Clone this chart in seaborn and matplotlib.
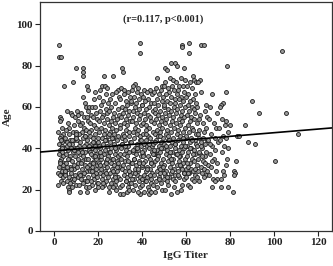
import pandas as pd
import matplotlib
matplotlib.use("Agg")
import matplotlib.pyplot as plt
import seaborn as sns

# points, grouped by IgG titer band (titer, age)
band_00 = [(2.3,90),(2.4,84),(3.3,84),(4.4,70),(2.5,55),(3.0,54),(2.8,53),(3.5,50),(2.0,48),(4.0,47),(3.2,46),(2.6,45),(4.5,44),(3.8,43),(2.2,42),(3.6,41),(4.8,40),(2.9,39),(3.4,38),(2.1,37),(4.2,36),(3.1,35),(2.7,34),(4.6,33),(3.9,32),(2.4,31),(4.1,30),(3.7,29),(2.0,28),(4.9,28),(3.3,27),(2.5,27),(4.3,26),(3.0,24),(1.8,22)]
band_05 = [(8.5,72),(6.0,58),(7.5,57),(8.0,56),(9.6,55),(6.4,52),(9.2,51),(7.0,50),(5.5,49),(8.8,48),(6.7,47),(9.9,46),(5.2,45),(7.3,44),(9.0,44),(6.1,43),(8.2,42),(5.8,41),(7.7,40),(9.4,40),(6.3,39),(8.6,38),(5.4,37),(7.1,36),(9.7,36),(6.9,35),(8.0,34),(5.6,33),(9.1,32),(7.4,31),(6.2,30),(8.9,30),(5.1,29),(7.8,28),(9.5,27),(6.6,26),(8.3,25),(8.5,24),(5.9,24),(7.2,23),(9.8,22),(6.5,21),(8.1,21),(7.0,20),(6.8,19)]
band_10 = [(10.0,79),(13.0,79),(13.1,77),(13.0,75),(15.0,70),(15.3,68),(13.2,65),(14.1,62),(14.6,60),(10.5,58),(12.2,57),(11.0,56),(13.8,55),(14.9,55),(10.8,53),(12.5,52),(11.7,51),(13.4,50),(14.4,49),(10.2,48),(12.8,48),(11.4,47),(14.0,46),(13.1,45),(10.6,44),(12.0,43),(14.7,42),(11.2,41),(13.6,41),(10.4,40),(12.4,39),(14.2,38),(11.8,37),(13.0,36),(10.9,35),(14.5,35),(12.6,34),(11.1,33),(13.9,32),(10.3,31),(12.9,30),(14.8,29),(11.5,28),(13.3,27),(10.7,26),(12.1,25),(14.3,24),(13.0,23),(12.0,19),(15.0,19),(11.3,22),(14.6,21)]
band_15 = [(18.5,67),(18.0,64),(16.0,60),(17.2,60),(18.4,60),(15.6,58),(19.0,57),(16.8,56),(17.9,55),(19.6,54),(15.4,53),(16.5,52),(18.2,51),(19.3,50),(17.0,49),(15.8,48),(18.8,47),(16.3,46),(19.8,45),(17.5,45),(15.2,44),(18.1,43),(16.7,42),(19.4,41),(17.3,40),(15.9,39),(18.6,39),(16.2,38),(19.1,37),(17.7,36),(15.5,35),(18.3,34),(16.9,33),(19.7,32),(17.1,31),(15.7,30),(18.9,30),(16.4,29),(19.2,28),(17.6,27),(15.3,26),(18.0,25),(16.6,24),(19.5,23),(17.4,22),(16.1,21),(18.7,20),(19.9,21),(17.8,33),(16.0,41)]
band_20 = [(22.7,75),(22.0,70),(23.2,70),(24.0,69),(21.0,68),(23.8,66),(20.5,65),(22.4,63),(24.6,62),(21.3,61),(23.5,59),(20.8,58),(24.2,57),(22.1,56),(21.6,55),(23.9,54),(20.3,53),(22.8,52),(24.8,51),(21.4,50),(23.1,49),(20.6,48),(22.5,47),(24.4,46),(21.8,45),(23.6,44),(20.2,43),(22.3,42),(24.1,41),(21.1,40),(23.3,39),(20.9,38),(22.6,37),(24.7,36),(21.5,35),(23.7,34),(20.4,33),(22.9,32),(24.3,31),(21.2,30),(23.0,29),(20.7,28),(22.2,27),(24.5,26),(21.7,25),(23.4,24),(20.1,23),(22.8,22),(24.9,21),(21.9,21),(23.6,33),(20.5,36)]
band_25 = [(27.0,75),(29.0,68),(28.2,67),(26.4,66),(29.6,65),(25.5,64),(27.8,62),(26.1,60),(28.9,59),(25.2,58),(27.3,57),(29.4,56),(26.7,55),(28.5,54),(25.8,53),(27.6,52),(29.8,51),(26.3,50),(28.1,49),(25.4,48),(27.1,47),(29.2,46),(26.9,45),(28.7,44),(25.6,43),(27.4,42),(29.5,41),(26.0,40),(28.3,39),(25.1,38),(27.9,37),(29.1,36),(26.5,35),(28.6,34),(25.7,33),(27.2,32),(29.7,31),(26.2,30),(28.4,29),(25.3,28),(27.7,27),(29.3,26),(26.8,25),(28.0,24),(25.9,23),(27.5,22),(29.9,21),(26.6,21),(25.0,19),(28.0,20),(30.0,18),(27.0,35)]
band_30 = [(31.0,79),(31.4,77),(30.5,69),(32.0,68),(33.8,67),(31.6,66),(34.4,65),(30.2,64),(32.7,63),(34.9,62),(33.1,61),(30.8,60),(32.3,59),(34.1,58),(31.2,57),(33.5,56),(30.4,55),(32.9,54),(34.6,53),(31.8,52),(33.3,51),(30.1,50),(32.5,49),(34.3,48),(31.5,47),(33.9,46),(30.7,45),(32.2,44),(34.7,43),(31.1,42),(33.6,41),(30.3,40),(32.8,39),(34.2,38),(31.9,37),(33.0,36),(30.6,35),(32.4,34),(34.8,33),(31.3,32),(33.7,31),(30.9,30),(32.1,29),(34.5,28),(31.7,27),(33.2,26),(30.0,25),(32.6,24),(34.0,23),(31.0,22),(33.4,21),(33.0,19),(34.0,20),(31.5,18)]
band_35 = [(39.0,91),(39.2,86),(37.0,71),(36.0,70),(38.0,69),(35.5,68),(37.6,67),(39.5,66),(36.3,65),(38.8,64),(35.2,63),(37.3,62),(39.8,61),(36.7,60),(38.4,59),(35.8,58),(37.9,57),(39.1,56),(36.1,55),(38.6,54),(35.4,53),(37.1,52),(39.6,51),(36.9,50),(38.2,49),(35.7,48),(37.5,47),(39.3,46),(36.4,45),(38.9,44),(35.1,43),(37.8,42),(39.7,41),(36.6,40),(38.1,39),(35.9,38),(37.2,37),(39.4,36),(36.2,35),(38.7,34),(35.3,33),(37.4,32),(39.9,31),(36.8,30),(38.3,29),(35.6,28),(37.7,27),(39.0,26),(36.5,25),(38.5,24),(35.0,23),(37.0,22),(39.2,21),(36.0,20),(39.0,18),(38.0,19)]
band_40 = [(41.0,68),(43.5,68),(42.2,67),(44.6,66),(40.5,65),(42.8,64),(41.4,63),(44.1,62),(40.2,61),(43.0,60),(41.7,59),(44.8,58),(40.9,57),(42.5,56),(43.8,55),(41.2,54),(44.3,53),(40.6,52),(42.0,51),(43.3,50),(41.6,49),(44.9,48),(40.3,47),(42.7,46),(43.6,45),(41.9,44),(44.4,43),(40.8,42),(42.3,41),(43.1,40),(41.1,39),(44.7,38),(40.4,37),(42.9,36),(43.7,35),(41.5,34),(44.0,33),(40.1,32),(42.4,31),(43.4,30),(41.8,29),(44.5,28),(40.7,27),(42.1,26),(43.9,25),(41.3,24),(44.2,23),(40.0,22),(42.6,21),(43.2,20),(41.0,19),(43.0,18),(44.0,19),(42.0,24),(40.5,33),(44.5,41)]
band_45 = [(47.0,74),(49.0,70),(50.0,70),(46.2,69),(48.4,68),(45.6,67),(47.8,66),(49.5,65),(46.7,64),(48.9,63),(45.3,62),(47.4,61),(49.8,60),(46.1,59),(48.2,58),(45.9,57),(47.1,56),(49.3,55),(46.5,54),(48.6,53),(45.4,52),(47.6,51),(49.1,50),(46.8,49),(48.0,48),(45.7,47),(47.3,46),(49.6,45),(46.3,44),(48.7,43),(45.1,42),(47.9,41),(49.4,40),(46.6,39),(48.3,38),(45.8,37),(47.2,36),(49.7,35),(46.0,34),(48.5,33),(45.2,32),(47.5,31),(49.2,30),(46.9,29),(48.1,28),(45.5,27),(47.7,26),(49.9,25),(46.4,24),(48.8,23),(45.0,22),(47.0,21),(49.0,20),(46.0,19),(48.0,30),(45.5,37)]
band_50 = [(53.0,81),(55.0,81),(50.5,79),(51.5,78),(52.5,74),(54.2,73),(50.3,72),(53.6,70),(51.8,69),(54.7,68),(52.1,67),(50.8,66),(53.3,65),(54.9,64),(51.2,63),(52.8,62),(50.1,61),(54.4,60),(51.6,59),(53.0,58),(50.6,57),(52.3,56),(54.0,55),(51.0,54),(53.8,53),(50.4,52),(52.6,51),(54.6,50),(51.4,49),(53.2,48),(50.9,47),(52.0,46),(54.3,45),(51.7,44),(53.5,43),(50.2,42),(52.9,41),(54.8,40),(51.3,39),(53.7,38),(50.7,37),(52.4,36),(54.1,35),(51.9,34),(53.4,33),(50.0,32),(52.7,31),(54.5,30),(51.1,29),(53.1,28),(50.5,27),(52.2,26),(54.0,25),(51.5,24),(53.0,18),(52.0,22),(54.5,21),(50.5,20)]
band_55 = [(58.0,90),(58.2,89),(56.0,80),(59.0,79),(57.5,74),(59.5,73),(55.5,72),(57.0,70),(58.8,70),(56.3,68),(59.3,67),(55.8,66),(57.8,65),(56.6,64),(58.5,63),(55.2,62),(57.3,61),(59.7,60),(56.1,59),(58.3,58),(55.6,57),(57.6,56),(59.1,55),(56.8,54),(58.0,53),(55.3,52),(57.1,51),(59.4,50),(56.4,49),(58.7,48),(55.9,47),(57.4,46),(59.8,45),(56.2,44),(58.4,43),(55.1,42),(57.9,41),(59.2,40),(56.7,39),(58.1,38),(55.4,37),(57.2,36),(59.6,35),(56.9,34),(58.6,33),(55.7,32),(57.7,31),(59.9,30),(56.5,29),(58.9,28),(55.0,27),(57.0,26),(59.0,25),(56.0,19),(58.0,22),(57.5,20)]
band_60 = [(61.5,91),(61.3,86),(63.0,75),(63.5,73),(62.0,72),(64.5,72),(60.5,70),(62.8,69),(61.0,66),(64.0,66),(60.2,65),(63.3,64),(61.8,63),(64.7,62),(60.7,61),(62.5,60),(63.8,59),(61.2,58),(64.2,57),(60.4,56),(62.2,55),(63.6,54),(61.6,53),(64.9,52),(60.9,51),(62.7,50),(63.1,49),(61.4,48),(64.4,47),(60.1,46),(62.4,45),(63.9,44),(61.9,43),(64.6,42),(60.6,41),(62.1,40),(63.4,39),(61.1,38),(64.1,37),(60.3,36),(62.9,35),(63.7,34),(61.7,33),(64.8,32),(60.8,31),(62.3,30),(63.2,29),(61.5,28),(64.3,27),(60.0,26),(62.6,25),(61.0,22),(62.0,21),(63.5,24)]
band_65 = [(67.0,90),(68.0,90),(66.5,73),(65.5,72),(67.0,67),(69.0,61),(65.2,60),(68.4,58),(66.3,56),(69.5,55),(65.8,54),(67.6,52),(69.1,50),(66.0,49),(68.2,48),(65.4,47),(67.9,45),(69.7,44),(66.7,43),(68.8,42),(65.1,41),(67.3,40),(69.3,38),(66.2,37),(68.5,36),(65.6,35),(67.7,34),(69.8,32),(66.9,31),(68.1,30),(65.3,29),(67.4,28),(69.0,27),(66.0,24),(68.0,26)]
band_70 = [(72.0,66),(71.0,60),(74.0,57),(70.5,54),(72.5,52),(73.8,50),(71.3,47),(73.0,45),(70.2,44),(74.5,43),(71.8,41),(73.3,39),(70.8,37),(72.8,35),(74.2,33),(71.5,31),(73.6,29),(70.4,27),(72.2,25),(74.0,25),(73.0,24),(72.0,21)]
band_75 = [(78.5,80),(78.0,67),(77.0,62),(76.0,61),(75.5,60),(76.5,54),(78.0,53),(77.5,51),(75.2,50),(79.0,48),(76.8,46),(78.3,45),(75.6,44),(77.2,41),(79.3,40),(76.2,38),(78.6,35),(78.0,32),(77.0,29),(77.2,27),(76.0,25),(76.0,21)]
band_80 = [(80.0,51),(83.0,46),(84.0,46),(82.6,34),(82.0,29),(82.2,28),(82.0,27),(79.0,21),(81.4,19),(87.0,51),(88.0,43),(90.0,63),(91.4,42),(93.0,57),(100.5,34),(103.6,87),(105.5,57),(111.0,47)]
# extra points where the cloud is densest (ages 22-48)
core_a = [(3.1,44),(5.7,31),(8.9,39),(11.6,27),(14.2,46),(17.3,29),(19.1,35),(2.6,33),(6.8,42),(9.3,25),(12.7,38),(15.9,32),(18.4,41),(4.2,23),(7.6,30),(10.1,45),(13.5,28),(16.6,37),(19.7,26),(3.8,40),(6.2,35),(9.8,47),(12.3,33),(15.1,24),(17.9,43),(5.0,27),(8.3,44),(11.0,38),(14.8,31),(18.8,36)]
core_b = [(20.4,41),(23.7,28),(26.2,45),(29.3,33),(32.6,24),(35.8,39),(38.2,30),(21.5,36),(24.9,47),(27.6,26),(30.7,42),(33.9,29),(36.4,35),(39.5,44),(22.3,23),(25.4,38),(28.8,31),(31.9,46),(34.5,27),(37.7,40),(20.9,32),(23.1,44),(26.7,29),(29.9,37),(32.2,41),(35.3,25),(38.6,33),(24.2,35),(27.9,40),(33.4,34),(36.9,28),(39.8,38)]
core_c = [(40.6,36),(43.8,27),(46.1,43),(49.4,31),(52.7,38),(55.2,24),(58.6,45),(41.9,47),(44.3,33),(47.7,25),(50.8,41),(53.6,29),(56.9,36),(59.3,28),(42.4,30),(45.5,39),(48.2,46),(51.3,26),(54.8,42),(57.4,32),(40.2,25),(43.1,42),(46.7,35),(49.9,28),(52.1,44),(55.7,37),(58.1,30),(44.9,37),(48.6,40),(53.3,35),(56.3,27),(59.7,41)]
core_d = [(60.4,33),(62.7,44),(64.8,26),(66.1,38),(68.6,33),(70.9,42),(61.6,40),(63.9,30),(65.7,45),(67.2,36),(69.4,29),(71.6,34),(60.9,28),(63.2,37),(66.8,41)]

# fitted line
fit_intercept = 38.7
fit_slope = 0.088
annotation = "(r=0.117, p<0.001)"
x_ticks = [0, 20, 40, 60, 80, 100, 120]
y_ticks = [0, 20, 40, 60, 80, 100]

bands = [band_00, band_05, band_10, band_15, band_20, band_25, band_30, band_35,
         band_40, band_45, band_50, band_55, band_60, band_65, band_70, band_75, band_80,
         core_a, core_b, core_c, core_d]
df = pd.DataFrame([p for b in bands for p in b], columns=["IgG Titer", "Age"])

sns.set_style("white")
plt.rcParams['font.family'] = ['Liberation Serif', 'DejaVu Serif']
plt.rcParams['font.weight'] = 'bold'

fig = plt.figure(figsize=(3.33, 2.66), dpi=100)
ax = fig.add_axes([0.120, 0.132, 0.876, 0.861])

sns.scatterplot(data=df, x="IgG Titer", y="Age", ax=ax, s=8, color="#9a9a9a",
                edgecolor="#1a1a1a", linewidth=0.6, zorder=2)
ax.axline((0, fit_intercept), slope=fit_slope, color="black", lw=1.2, zorder=3)

ax.set_xlim(-6.4, 126.2)
ax.set_ylim(0, 110.8)
ax.set_xticks(x_ticks)
ax.set_yticks(y_ticks)
ax.tick_params(axis="both", direction="out", length=3.5, width=0.8, labelsize=8,
               bottom=True, left=True, pad=1.5, colors="#222222")
for lbl in ax.get_xticklabels() + ax.get_yticklabels():
    lbl.set_fontweight("bold")
ax.set_xlabel("IgG Titer", fontsize=8, fontweight="bold", labelpad=3)
ax.set_ylabel("Age", fontsize=8, fontweight="bold", labelpad=3)
for sp in ax.spines.values():
    sp.set_color("#333333")
    sp.set_linewidth(0.9)

ax.text(49.5, 102.6, annotation, ha="center", va="center", fontsize=7.5, fontweight="bold")

fig.savefig("out.png", dpi=100)
